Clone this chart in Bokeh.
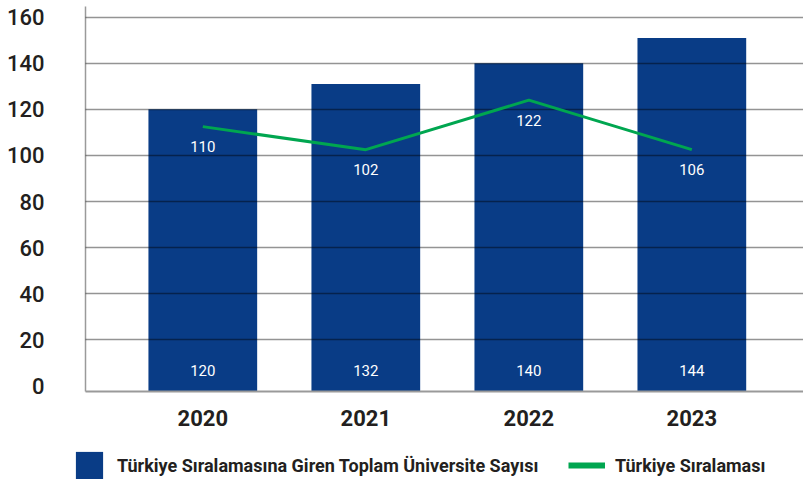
from bokeh.plotting import figure
from bokeh.layouts import column
from bokeh.models import ColumnDataSource, FixedTicker, Range1d, Legend, LegendItem
from bokeh.embed import file_html
from bokeh.resources import INLINE
from bokeh.core.properties import value

# ---- data ----
years = ["2020", "2021", "2022", "2023"]
university_counts = [120, 131, 140, 151]          # bar heights as drawn
university_labels = ["120", "132", "140", "144"]  # printed values
ranking = [112.5, 102.5, 124, 102.5]              # line points as drawn
ranking_labels = ["110", "102", "122", "106"]     # printed values
y_ticks = [0, 20, 40, 60, 80, 100, 120, 140, 160]
grid_ticks = [20, 40, 60, 80, 100, 120, 140, 160]
bar_series = "Türkiye Sıralamasına Giren Toplam Üniversite Sayısı"
line_series = "Türkiye Sıralaması"

NAVY = "#093c86"
GREEN = "#00a650"
TEXT = "#231f20"
FONT = "Roboto"

Y_START, Y_END = -2.47, 164.65

x_idx = list(range(len(years)))
src = ColumnDataSource(dict(
    x=x_idx, uni=university_counts, uni_lbl=university_labels,
    rank=ranking, rank_lbl=ranking_labels,
))

p = figure(width=803, height=432, output_backend="svg", toolbar_location=None,
           x_range=Range1d(-0.7196, 3.685), y_range=Range1d(Y_START, Y_END),
           min_border_left=85, min_border_right=0, min_border_top=6,
           min_border_bottom=41)
p.frame_align = False
p.outline_line_color = None
p.background_fill_color = "white"

bars = p.vbar(x="x", top="uni", bottom=Y_START, width=0.667, source=src,
              fill_color=NAVY, line_color=None)

ln = p.line(x="x", y="rank", source=src, line_color=GREEN, line_width=3)
ln.level = "annotation"

t1 = p.text(x="x", y="rank", text="rank_lbl", source=src, text_align="center",
            text_baseline="middle", y_offset=20, text_color="white",
            text_font=value(FONT), text_font_size="15px")
t1.level = "annotation"
t2 = p.text(x="x", y=Y_START, text="uni_lbl", source=src, text_align="center",
            text_baseline="middle", y_offset=-21, text_color="white",
            text_font=value(FONT), text_font_size="15px")
t2.level = "annotation"

# grid
p.xgrid.visible = False
p.ygrid.ticker = FixedTicker(ticks=grid_ticks)
p.ygrid.grid_line_color = "black"
p.ygrid.grid_line_alpha = 0.42
p.ygrid.grid_line_width = 1.5
p.ygrid.level = "guide"

# axes
p.yaxis.ticker = FixedTicker(ticks=y_ticks)
p.yaxis.major_label_text_font = "Roboto Medium"
p.yaxis.major_label_text_font_size = "22px"
p.yaxis.major_label_text_color = TEXT
p.yaxis.major_tick_line_color = None
p.yaxis.minor_tick_line_color = None
p.yaxis.axis_line_color = "#9a9a9a"
p.yaxis.axis_line_width = 1.5
p.yaxis.major_label_standoff = 35

p.xaxis.ticker = FixedTicker(ticks=x_idx)
p.xaxis.major_label_overrides = {i: y for i, y in zip(x_idx, years)}
p.xaxis.major_label_text_font = FONT
p.xaxis.major_label_text_font_size = "22px"
p.xaxis.major_label_text_font_style = "bold"
p.xaxis.major_label_text_color = TEXT
p.xaxis.major_tick_line_color = None
p.xaxis.minor_tick_line_color = None
p.xaxis.axis_line_color = "#9a9a9a"
p.xaxis.axis_line_width = 2
p.xaxis.major_label_standoff = 12

# ---- legend strip ----
NAN = float("nan")
lg = figure(width=803, height=47, output_backend="svg", toolbar_location=None,
            x_range=Range1d(0, 1), y_range=Range1d(0, 1),
            x_axis_location=None, y_axis_location=None,
            min_border_left=0, min_border_right=0, min_border_top=0,
            min_border_bottom=0)
lg.frame_align = False
lg.outline_line_color = None
lg.xgrid.visible = False
lg.ygrid.visible = False
leg_bar = lg.vbar(x=[NAN], top=[NAN], width=1, fill_color=NAVY, line_color=None)
leg_line = lg.line(x=[NAN, NAN], y=[NAN, NAN], line_color=GREEN, line_width=6)

common = dict(orientation="horizontal", padding=0, margin=0, spacing=0,
              border_line_color=None, background_fill_alpha=0,
              label_text_font=FONT, label_text_font_style="bold",
              label_text_font_size="18px", label_text_color=TEXT,
              glyph_height=34)
leg1 = Legend(items=[LegendItem(label=bar_series, renderers=[leg_bar], index=0)],
              location=(72, -3), glyph_width=34, label_standoff=11, **common)
leg2 = Legend(items=[LegendItem(label=line_series, renderers=[leg_line], index=0)],
              location=(568, -3), glyph_width=37, label_standoff=10, **common)
lg.add_layout(leg1)
lg.add_layout(leg2)

layout = column(p, lg, spacing=0)
open("out.html", "w").write(file_html(layout, INLINE))
